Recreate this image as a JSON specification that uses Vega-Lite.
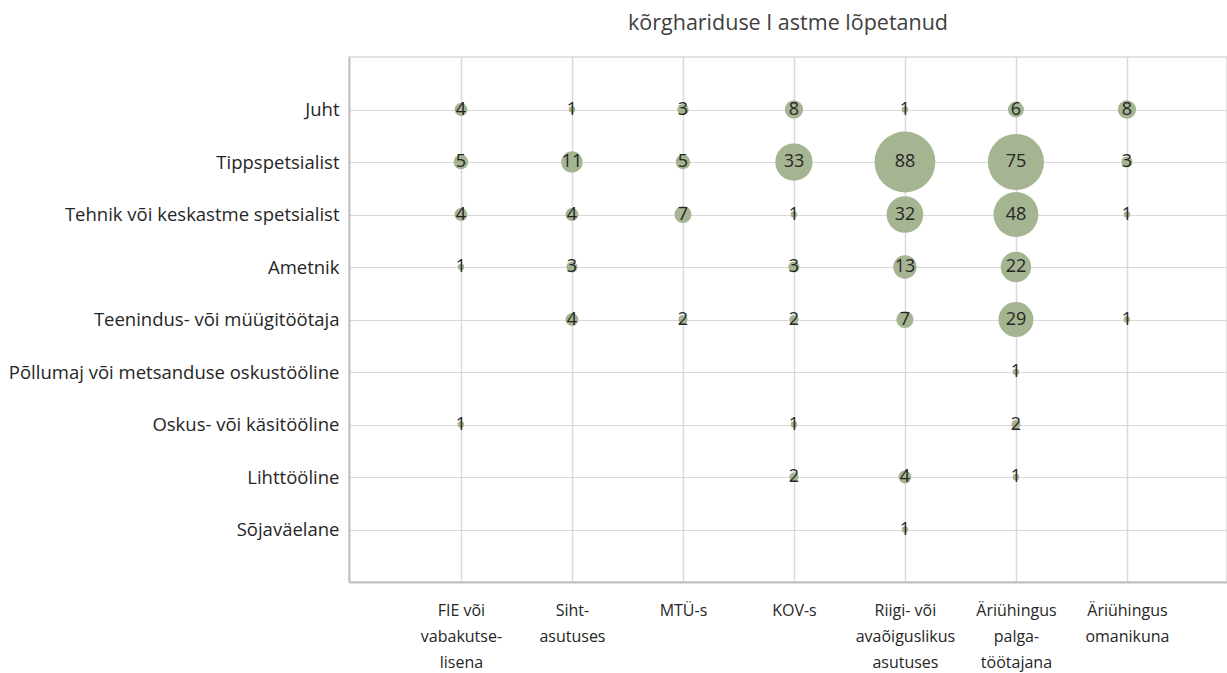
{
  "$schema": "https://vega.github.io/schema/vega-lite/v6.json",
  "autosize": {"type": "none"},
  "padding": {"left": 349, "top": 57, "right": 0, "bottom": 91},
  "width": 878,
  "height": 525,
  "background": "white",
  "config": {
    "view": {"stroke": "#d9d9d9", "strokeWidth": 1.5},
    "font": "Open Sans"
  },
  "title": {
    "text": "kõrghariduse  I astme lõpetanud",
    "fontSize": 21.5,
    "fontWeight": "normal",
    "color": "#404040",
    "font": "Open Sans",
    "anchor": "middle",
    "offset": 23
  },
  "data": {
    "values": [
      {"amet": "Juht", "koht": "FIE või vabakutselisena", "n": 4},
      {"amet": "Juht", "koht": "Sihtasutuses", "n": 1},
      {"amet": "Juht", "koht": "MTÜ-s", "n": 3},
      {"amet": "Juht", "koht": "KOV-s", "n": 8},
      {"amet": "Juht", "koht": "Riigi- või avaõiguslikus asutuses", "n": 1},
      {"amet": "Juht", "koht": "Äriühingus palgatöötajana", "n": 6},
      {"amet": "Juht", "koht": "Äriühingus omanikuna", "n": 8},
      {"amet": "Tippspetsialist", "koht": "FIE või vabakutselisena", "n": 5},
      {"amet": "Tippspetsialist", "koht": "Sihtasutuses", "n": 11},
      {"amet": "Tippspetsialist", "koht": "MTÜ-s", "n": 5},
      {"amet": "Tippspetsialist", "koht": "KOV-s", "n": 33},
      {"amet": "Tippspetsialist", "koht": "Riigi- või avaõiguslikus asutuses", "n": 88},
      {"amet": "Tippspetsialist", "koht": "Äriühingus palgatöötajana", "n": 75},
      {"amet": "Tippspetsialist", "koht": "Äriühingus omanikuna", "n": 3},
      {"amet": "Tehnik või keskastme spetsialist", "koht": "FIE või vabakutselisena", "n": 4},
      {"amet": "Tehnik või keskastme spetsialist", "koht": "Sihtasutuses", "n": 4},
      {"amet": "Tehnik või keskastme spetsialist", "koht": "MTÜ-s", "n": 7},
      {"amet": "Tehnik või keskastme spetsialist", "koht": "KOV-s", "n": 1},
      {"amet": "Tehnik või keskastme spetsialist", "koht": "Riigi- või avaõiguslikus asutuses", "n": 32},
      {"amet": "Tehnik või keskastme spetsialist", "koht": "Äriühingus palgatöötajana", "n": 48},
      {"amet": "Tehnik või keskastme spetsialist", "koht": "Äriühingus omanikuna", "n": 1},
      {"amet": "Ametnik", "koht": "FIE või vabakutselisena", "n": 1},
      {"amet": "Ametnik", "koht": "Sihtasutuses", "n": 3},
      {"amet": "Ametnik", "koht": "KOV-s", "n": 3},
      {"amet": "Ametnik", "koht": "Riigi- või avaõiguslikus asutuses", "n": 13},
      {"amet": "Ametnik", "koht": "Äriühingus palgatöötajana", "n": 22},
      {"amet": "Teenindus- või müügitöötaja", "koht": "Sihtasutuses", "n": 4},
      {"amet": "Teenindus- või müügitöötaja", "koht": "MTÜ-s", "n": 2},
      {"amet": "Teenindus- või müügitöötaja", "koht": "KOV-s", "n": 2},
      {"amet": "Teenindus- või müügitöötaja", "koht": "Riigi- või avaõiguslikus asutuses", "n": 7},
      {"amet": "Teenindus- või müügitöötaja", "koht": "Äriühingus palgatöötajana", "n": 29},
      {"amet": "Teenindus- või müügitöötaja", "koht": "Äriühingus omanikuna", "n": 1},
      {"amet": "Põllumaj või metsanduse oskustööline", "koht": "Äriühingus palgatöötajana", "n": 1},
      {"amet": "Oskus- või käsitööline", "koht": "FIE või vabakutselisena", "n": 1},
      {"amet": "Oskus- või käsitööline", "koht": "KOV-s", "n": 1},
      {"amet": "Oskus- või käsitööline", "koht": "Äriühingus palgatöötajana", "n": 2},
      {"amet": "Lihttööline", "koht": "KOV-s", "n": 2},
      {"amet": "Lihttööline", "koht": "Riigi- või avaõiguslikus asutuses", "n": 4},
      {"amet": "Lihttööline", "koht": "Äriühingus palgatöötajana", "n": 1},
      {"amet": "Sõjaväelane", "koht": "Riigi- või avaõiguslikus asutuses", "n": 1}
    ]
  },
  "encoding": {
    "x": {
      "field": "koht",
      "type": "nominal",
      "sort": ["FIE või vabakutselisena", "Sihtasutuses", "MTÜ-s", "KOV-s", "Riigi- või avaõiguslikus asutuses", "Äriühingus palgatöötajana", "Äriühingus omanikuna"],
      "scale": {"type": "point", "padding": 0.955, "align": 0.528},
      "axis": {
        "title": null,
        "labelAngle": 0,
        "labelExpr": "datum.label == 'FIE või vabakutselisena' ? ['FIE või', 'vabakutse-', 'lisena'] : datum.label == 'Sihtasutuses' ? ['Siht-', 'asutuses'] : datum.label == 'Riigi- või avaõiguslikus asutuses' ? ['Riigi- või', 'avaõiguslikus', 'asutuses'] : datum.label == 'Äriühingus palgatöötajana' ? ['Äriühingus', 'palga-', 'töötajana'] : datum.label == 'Äriühingus omanikuna' ? ['Äriühingus', 'omanikuna'] : datum.label",
        "labelFont": "Open Sans",
        "labelFontSize": 16,
        "labelColor": "#262626",
        "labelLineHeight": 26,
        "labelPadding": 20,
        "labelBaseline": "top",
        "ticks": false,
        "domainColor": "#bfbfbf",
        "domainWidth": 2,
        "grid": true,
        "gridColor": "#d9d9d9",
        "gridWidth": 1.5
      }
    },
    "y": {
      "field": "amet",
      "type": "nominal",
      "sort": ["Juht", "Tippspetsialist", "Tehnik või keskastme spetsialist", "Ametnik", "Teenindus- või müügitöötaja", "Põllumaj või metsanduse oskustööline", "Oskus- või käsitööline", "Lihttööline", "Sõjaväelane"],
      "scale": {"type": "point", "padding": 1},
      "axis": {
        "title": null,
        "labelFont": "Open Sans",
        "labelFontSize": 18.5,
        "labelColor": "#262626",
        "labelPadding": 10,
        "labelLimit": 400,
        "ticks": false,
        "domainColor": "#bfbfbf",
        "domainWidth": 2,
        "grid": true,
        "gridColor": "#d9d9d9",
        "gridWidth": 1
      }
    }
  },
  "layer": [
    {
      "mark": {"type": "circle", "opacity": 1, "color": "#a5b592"},
      "encoding": {
        "size": {
          "field": "n",
          "type": "quantitative",
          "scale": {"type": "linear", "domain": [0, 88], "range": [0, 3700], "zero": true},
          "legend": null
        }
      }
    },
    {
      "mark": {"type": "text", "font": "Open Sans", "fontSize": 18, "color": "#262626", "baseline": "middle", "align": "center"},
      "encoding": {"text": {"field": "n", "type": "quantitative"}}
    }
  ]
}
